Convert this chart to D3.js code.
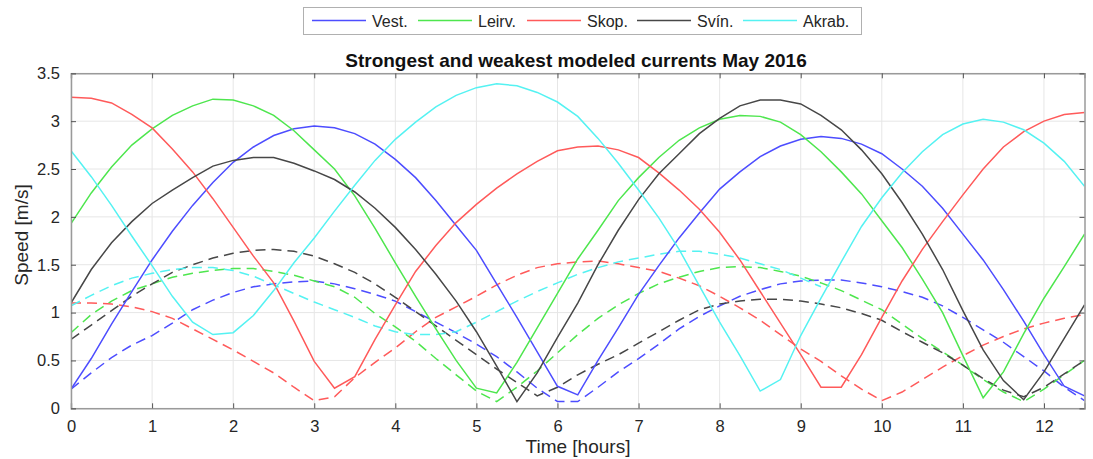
<!DOCTYPE html>
<html><head><meta charset="utf-8">
<script src="https://cdn.jsdelivr.net/npm/d3@7"></script>
<style>
html,body{margin:0;padding:0;background:#fff;}
svg{display:block;font-family:"Liberation Sans",Arial,Helvetica,sans-serif;}
</style></head>
<body><svg id="c" width="1093" height="459"></svg>
<script>
// ---- data (hours, m/s) ----
const time = d3.range(0, 12.5001, 0.25).map(v => +v.toFixed(2));
const seriesNames = ["Vest.", "Leirv.", "Skop.", "Svín.", "Akrab."];
const xTicks = [0,1,2,3,4,5,6,7,8,9,10,11,12];
const yTicks = [0,0.5,1,1.5,2,2.5,3,3.5];

// strongest (solid)
const vestStrong = [0.20,0.52,0.88,1.22,1.55,1.85,2.12,2.36,2.57,2.73,2.85,2.92,2.95,2.93,2.87,2.76,2.60,2.41,2.17,1.91,1.65,1.30,0.95,0.59,0.23,0.14,0.50,0.84,1.19,1.49,1.78,2.04,2.29,2.47,2.63,2.74,2.81,2.84,2.82,2.76,2.66,2.50,2.32,2.09,1.82,1.55,1.24,0.91,0.56,0.23,0.13];
const leirvStrong = [1.93,2.25,2.52,2.75,2.92,3.06,3.16,3.23,3.22,3.16,3.06,2.90,2.70,2.50,2.22,1.88,1.52,1.17,0.83,0.50,0.21,0.16,0.48,0.84,1.20,1.56,1.86,2.17,2.41,2.62,2.80,2.93,3.02,3.06,3.05,2.99,2.86,2.68,2.47,2.24,1.96,1.68,1.35,1.00,0.55,0.11,0.38,0.78,1.15,1.48,1.82];
const skopStrong = [3.25,3.24,3.19,3.07,2.93,2.71,2.47,2.19,1.89,1.59,1.31,0.91,0.49,0.21,0.33,0.72,1.08,1.43,1.70,1.94,2.13,2.30,2.45,2.58,2.69,2.73,2.74,2.70,2.62,2.46,2.28,2.08,1.84,1.55,1.22,0.89,0.56,0.22,0.22,0.56,0.95,1.33,1.66,1.95,2.23,2.50,2.73,2.89,3.00,3.07,3.09];
const svinStrong = [1.10,1.45,1.73,1.95,2.14,2.28,2.41,2.53,2.59,2.62,2.62,2.56,2.48,2.39,2.26,2.09,1.89,1.66,1.40,1.12,0.80,0.44,0.07,0.37,0.74,1.10,1.50,1.86,2.18,2.45,2.66,2.87,3.03,3.16,3.22,3.22,3.18,3.06,2.91,2.70,2.45,2.15,1.82,1.45,1.02,0.61,0.29,0.09,0.38,0.73,1.08];
const akrabStrong = [2.69,2.42,2.12,1.80,1.49,1.17,0.90,0.77,0.79,0.97,1.23,1.52,1.78,2.06,2.33,2.59,2.81,2.99,3.15,3.27,3.35,3.39,3.37,3.30,3.20,3.05,2.82,2.56,2.28,1.99,1.66,1.28,0.90,0.55,0.18,0.30,0.76,1.15,1.53,1.90,2.20,2.46,2.68,2.86,2.97,3.02,2.99,2.91,2.77,2.58,2.32];

// weakest (dashed)
const vestWeak = [0.20,0.37,0.53,0.66,0.76,0.89,1.03,1.13,1.21,1.27,1.30,1.32,1.33,1.30,1.25,1.19,1.12,1.01,0.90,0.79,0.67,0.54,0.38,0.21,0.07,0.07,0.22,0.38,0.52,0.67,0.83,0.96,1.07,1.17,1.24,1.30,1.33,1.34,1.34,1.31,1.27,1.22,1.16,1.07,0.95,0.82,0.69,0.54,0.39,0.22,0.08];
const leirvWeak = [0.79,0.98,1.12,1.23,1.30,1.37,1.41,1.44,1.46,1.46,1.43,1.39,1.33,1.27,1.16,0.99,0.85,0.70,0.52,0.35,0.18,0.07,0.22,0.39,0.58,0.77,0.94,1.08,1.20,1.30,1.37,1.43,1.47,1.48,1.47,1.43,1.38,1.31,1.23,1.13,1.03,0.88,0.73,0.59,0.45,0.30,0.17,0.07,0.20,0.35,0.50];
const skopWeak = [1.10,1.10,1.09,1.06,1.01,0.94,0.83,0.72,0.61,0.49,0.37,0.22,0.08,0.12,0.32,0.48,0.63,0.80,0.95,1.06,1.17,1.29,1.39,1.47,1.51,1.53,1.54,1.51,1.47,1.43,1.36,1.28,1.17,1.05,0.92,0.77,0.62,0.49,0.34,0.20,0.08,0.17,0.30,0.43,0.55,0.66,0.75,0.83,0.89,0.94,0.98];
const svinWeak = [0.72,0.87,1.02,1.17,1.30,1.42,1.50,1.57,1.62,1.65,1.66,1.64,1.59,1.51,1.42,1.30,1.16,1.01,0.86,0.71,0.56,0.41,0.27,0.13,0.22,0.35,0.46,0.56,0.68,0.80,0.92,1.03,1.09,1.12,1.14,1.14,1.12,1.09,1.05,0.99,0.92,0.80,0.69,0.58,0.45,0.31,0.19,0.12,0.22,0.36,0.50];
const akrabWeak = [1.07,1.18,1.28,1.36,1.41,1.45,1.47,1.47,1.44,1.38,1.29,1.20,1.11,1.03,0.95,0.86,0.80,0.77,0.77,0.80,0.90,1.01,1.12,1.22,1.31,1.40,1.47,1.53,1.57,1.61,1.64,1.64,1.61,1.57,1.51,1.45,1.36,1.27,null,null,null,null,null,null,null,null,null,null,null,null,null];

const colors = ["#4d4dff","#4ee64e","#ff5a5a","#474747","#55f2f2"];
const strong = [vestStrong, leirvStrong, skopStrong, svinStrong, akrabStrong];
const weak = [vestWeak, leirvWeak, skopWeak, svinWeak, akrabWeak];

// ---- layout ----
const svg = d3.select("#c");
const L = 71, R = 1084.5, T = 73.3, B = 408.3;
const x = d3.scaleLinear().domain([0, 12.5]).range([L, R]);
const y = d3.scaleLinear().domain([0, 3.5]).range([B, T]);
const axisCol = "#9a9a9a", textCol = "#262626";
const FONT = "'Liberation Sans',Arial,sans-serif";

// grid
const g = svg.append("g");
g.selectAll(".gx").data(xTicks).join("line")
  .attr("x1", d => x(d)).attr("x2", d => x(d)).attr("y1", T).attr("y2", B)
  .attr("stroke", "#e6e6e6").attr("stroke-width", 1);
g.selectAll(".gy").data(yTicks).join("line")
  .attr("x1", L).attr("x2", R).attr("y1", d => y(d)).attr("y2", d => y(d))
  .attr("stroke", "#e6e6e6").attr("stroke-width", 1);

// lines
const line = d3.line().defined(d => d[1] != null).x(d => x(d[0])).y(d => y(d[1]));
svg.append("clipPath").attr("id","clp").append("rect")
  .attr("x", L).attr("y", T).attr("width", R - L).attr("height", B - T);
const lg = svg.append("g").attr("clip-path","url(#clp)");
weak.forEach((s, i) => {
  lg.append("path").datum(time.map((t, k) => [t, s[k]]))
    .attr("d", line).attr("fill", "none").attr("stroke", colors[i])
    .attr("stroke-width", 1.5).attr("stroke-dasharray", "10,6");
});
strong.forEach((s, i) => {
  lg.append("path").datum(time.map((t, k) => [t, s[k]]))
    .attr("d", line).attr("fill", "none").attr("stroke", colors[i])
    .attr("stroke-width", 1.5);
});

// axes
const ax = svg.append("g").attr("transform", `translate(0,${B})`)
  .call(d3.axisBottom(x).tickValues(xTicks).tickSize(-5).tickPadding(12).tickFormat(d3.format("d")));
const axT = svg.append("g").attr("transform", `translate(0,${T})`)
  .call(d3.axisTop(x).tickValues(xTicks).tickSize(-5).tickFormat(""));
const ay = svg.append("g").attr("transform", `translate(${L},0)`)
  .call(d3.axisLeft(y).tickValues(yTicks).tickSize(-5).tickPadding(11).tickFormat(d => d3.format("")(d)));
const ayR = svg.append("g").attr("transform", `translate(${R},0)`)
  .call(d3.axisRight(y).tickValues(yTicks).tickSize(-5).tickFormat(""));
[ax, axT, ay, ayR].forEach(a => {
  a.selectAll("path.domain").attr("stroke", axisCol).attr("stroke-width", 1.5);
  a.selectAll(".tick line").attr("stroke", "#555").attr("stroke-width", 1);
  a.selectAll("text").attr("fill", textCol).style("font-size", "16.5px").style("font-family", FONT);
});

// title and labels
svg.append("text").attr("x", 576).attr("y", 67).attr("text-anchor", "middle")
  .style("font-size", "19px").style("font-weight", "bold").attr("fill", "#111")
  .text("Strongest and weakest modeled currents May 2016");
svg.append("text").attr("x", 578).attr("y", 453).attr("text-anchor", "middle")
  .style("font-size", "19px").attr("fill", textCol).text("Time [hours]");
svg.append("text").attr("transform", `translate(28,${235}) rotate(-90)`)
  .attr("text-anchor", "middle").style("font-size", "19px").attr("fill", textCol).text("Speed [m/s]");

// legend
const leg = svg.append("g");
leg.append("rect").attr("x", 303.5).attr("y", 7.5).attr("width", 558).attr("height", 27)
  .attr("fill", "#fff").attr("stroke", "#b0b0b0").attr("stroke-width", 1);
const legX = [312, 418, 527, 637, 743];
seriesNames.forEach((n, i) => {
  leg.append("line").attr("x1", legX[i]).attr("x2", legX[i] + 54).attr("y1", 20.5).attr("y2", 20.5)
    .attr("stroke", colors[i]).attr("stroke-width", 1.5);
  leg.append("text").attr("x", legX[i] + 60).attr("y", 26.5).style("font-size", "16px")
    .attr("fill", textCol).text(n);
});
</script></body></html>
